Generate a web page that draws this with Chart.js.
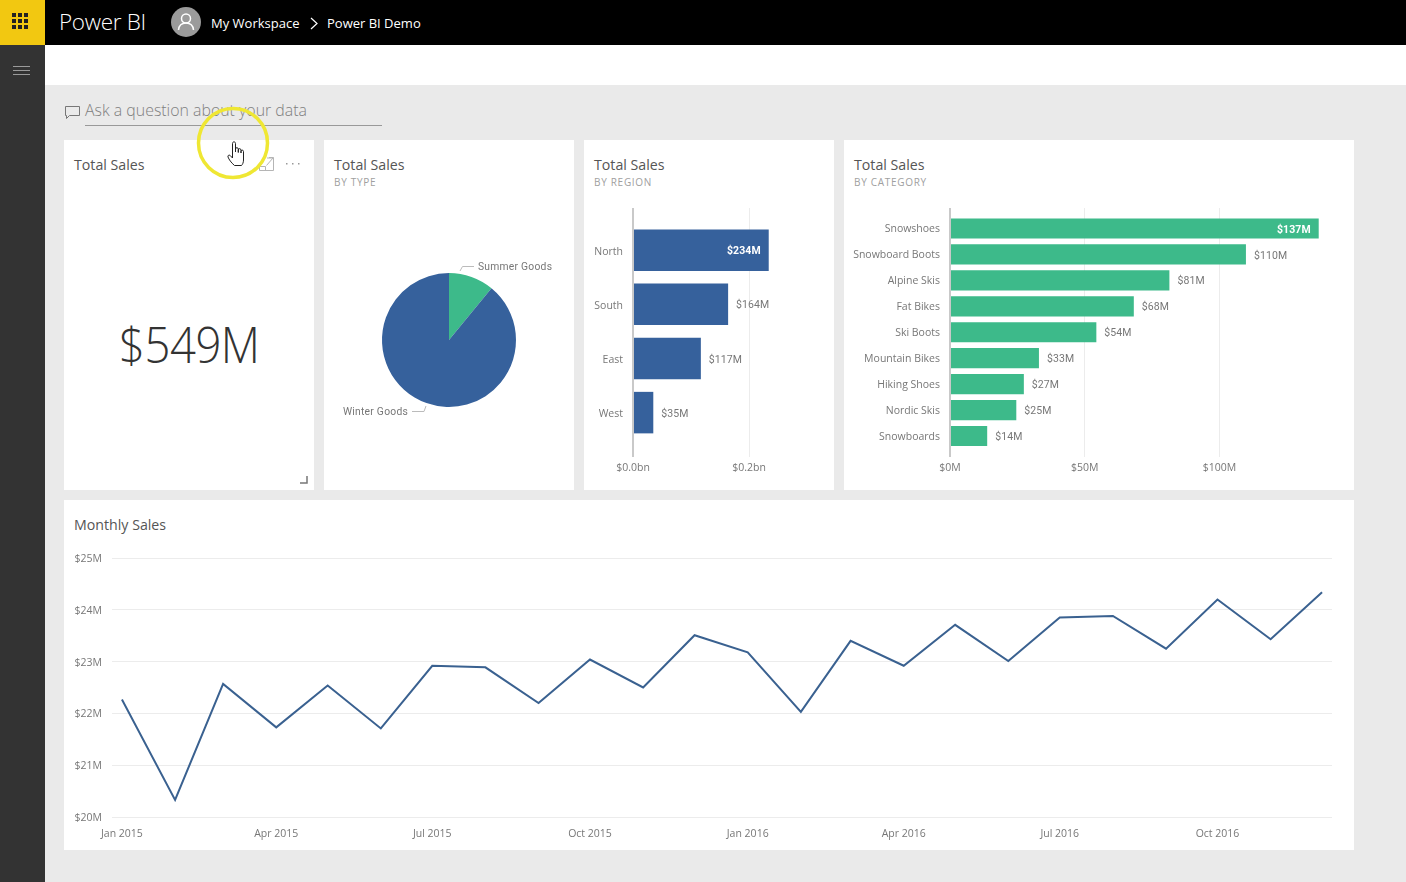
<!DOCTYPE html>
<html><head><meta charset="utf-8">
<script src="https://cdn.jsdelivr.net/npm/chart.js@4"></script>
<style>
html,body{margin:0;padding:0;width:1406px;height:882px;overflow:hidden;background:#eaeaea;font-family:"Open Sans",sans-serif}
.abs,.card,canvas{position:absolute}
.card{background:#fff}
.t{position:absolute;white-space:nowrap;line-height:1}
.title{font-size:14.2px;color:#555}
.sub{font-size:10px;color:#a0a0a0;letter-spacing:.7px}
</style></head><body>
<div class="abs" style="left:0;top:0;width:1406px;height:45px;background:#000"></div>
<div class="abs" style="left:0;top:0;width:45px;height:45px;background:#f2c811"></div>
<div class="abs" style="left:0;top:45px;width:45px;height:837px;background:#333"></div>
<div class="abs" style="left:45px;top:45px;width:1361px;height:40px;background:#fff"></div>
<svg class="abs" style="left:12px;top:13px" width="17" height="17" fill="#222"><rect x="0" y="0" width="4" height="4"/><rect x="6" y="0" width="4" height="4"/><rect x="12" y="0" width="4" height="4"/><rect x="0" y="6" width="4" height="4"/><rect x="6" y="6" width="4" height="4"/><rect x="12" y="6" width="4" height="4"/><rect x="0" y="12" width="4" height="4"/><rect x="6" y="12" width="4" height="4"/><rect x="12" y="12" width="4" height="4"/></svg>
<svg class="abs" style="left:13px;top:66px" width="17" height="10" stroke="#9a9a9a" stroke-width="1"><path d="M0 .5H17M0 4.5H17M0 8.5H17"/></svg>
<div class="t" style="left:59px;top:11px;font-size:22.5px;font-weight:300;color:#fff;letter-spacing:-.3px">Power BI</div>
<svg class="abs" style="left:171px;top:7px" width="30" height="30"><circle cx="15" cy="15" r="15" fill="#9b9b9b"/><circle cx="15" cy="11.5" r="4.5" fill="none" stroke="#fff" stroke-width="1.5"/><path d="M7.5 23c.5-5 3.5-7 7.5-7s7 2 7.5 7" fill="none" stroke="#fff" stroke-width="1.5"/></svg>
<div class="t" style="left:211px;top:17px;font-size:13px;font-weight:500;color:#fff">My Workspace</div>
<svg class="abs" style="left:310px;top:17px" width="9" height="13" fill="none" stroke="#fff" stroke-width="1.2"><path d="M1 1l6 5.500-6 5.500"/></svg>
<div class="t" style="left:327px;top:17px;font-size:13px;font-weight:500;color:#fff">Power BI Demo</div>

<svg class="abs" style="left:64px;top:105px" width="17" height="15" fill="none" stroke="#777" stroke-width="1"><path d="M1.500 1.500H15.500V10.500H5.500L2.500 13.500V10.500H1.500Z"/></svg>
<div class="t" style="left:85px;top:103px;font-size:15.9px;font-weight:300;color:#808080">Ask a question about your data</div>
<div class="abs" style="left:85px;top:125px;width:297px;height:1px;background:#999"></div>

<div class="card" style="left:64px;top:140px;width:250px;height:350px"></div>
<div class="card" style="left:324px;top:140px;width:250px;height:350px"></div>
<div class="card" style="left:584px;top:140px;width:250px;height:350px"></div>
<div class="card" style="left:844px;top:140px;width:510px;height:350px"></div>
<div class="card" style="left:64px;top:500px;width:1290px;height:350px"></div>

<div class="t title" style="left:74px;top:158px">Total Sales</div>
<div class="t" style="left:119px;top:319px;font-size:50px;font-weight:300;color:#333;letter-spacing:-.5px;transform:scaleX(.908);transform-origin:left top">$549M</div>
<svg class="abs" style="left:259px;top:157px" width="16" height="14" fill="none" stroke="#b5b5b5" stroke-width="1"><path d="M.5 6.500V13.500H14.500V1H8M7.500 8.500L14 1M10 .5h4.500V5M.5 9.500H6.500V13.500"/></svg>
<svg class="abs" style="left:286px;top:163px" width="15" height="3" fill="#999"><rect x="0" y="0" width="1.500" height="1.500"/><rect x="6" y="0" width="1.500" height="1.500"/><rect x="12" y="0" width="1.500" height="1.500"/></svg>
<svg class="abs" style="left:300px;top:476px" width="8" height="8" fill="none" stroke="#777" stroke-width="1.500"><path d="M7 0V7H0"/></svg>

<div class="t title" style="left:334px;top:158px">Total Sales</div>
<div class="t sub" style="left:334px;top:177px">BY TYPE</div>
<div class="t title" style="left:594px;top:158px">Total Sales</div>
<div class="t sub" style="left:594px;top:177px">BY REGION</div>
<div class="t title" style="left:854px;top:158px">Total Sales</div>
<div class="t sub" style="left:854px;top:177px">BY CATEGORY</div>
<div class="t title" style="left:74px;top:518px">Monthly Sales</div>

<canvas id="pie" width="250" height="350" style="left:324px;top:140px"></canvas>
<canvas id="region" width="250" height="350" style="left:584px;top:140px"></canvas>
<canvas id="category" width="510" height="350" style="left:844px;top:140px"></canvas>
<canvas id="monthly" width="1290" height="350" style="left:64px;top:500px"></canvas>

<svg class="abs" style="left:195px;top:105px;pointer-events:none" width="76" height="76"><circle cx="38" cy="38" r="34.500" fill="none" stroke="#efe733" stroke-width="3.500"/>
<path transform="translate(3,7)" d="M36.500 53.500C33 50.500 31 47.500 30 45c-.5-1.500 1-2.500 2.200-1.500l2.300 2.500V31.500c0-2.200 3-2.200 3 0V40v-3c0-1.800 2.800-1.800 2.800 0v3.500-2.500c0-1.800 2.700-1.800 2.700 0v3-1.500c0-1.800 2.500-1.800 2.500 0V48c0 2.500-1 4.500-2 5.500Z" fill="#fff" stroke="#222" stroke-width="1"/></svg>

<script>
const regions = ["North", "South", "East", "West"];
const regionSales = [234, 164, 117, 35];
const categories = ["Snowshoes", "Snowboard Boots", "Alpine Skis", "Fat Bikes", "Ski Boots", "Mountain Bikes", "Hiking Shoes", "Nordic Skis", "Snowboards"];
const categorySales = [136.8, 109.8, 81.4, 68.2, 54.3, 33, 27.4, 24.6, 13.8];
const goodsTypes = ["Summer Goods", "Winter Goods"];
const goodsSales = [60, 489];
const months = ["Jan 2015","Feb 2015","Mar 2015","Apr 2015","May 2015","Jun 2015","Jul 2015","Aug 2015","Sep 2015","Oct 2015","Nov 2015","Dec 2015","Jan 2016","Feb 2016","Mar 2016","Apr 2016","May 2016","Jun 2016","Jul 2016","Aug 2016","Sep 2016","Oct 2016","Nov 2016","Dec 2016"];
const monthDays = [0,31,59,90,120,151,181,212,243,273,304,334,365,396,425,456,486,517,547,578,609,639,670,700];
const monthlySales = [22.27,20.33,22.57,21.73,22.54,21.71,22.92,22.89,22.20,23.04,22.50,23.51,23.18,22.03,23.40,22.92,23.71,23.01,23.85,23.88,23.25,24.20,23.43,24.34];
const regionTicks = [0, 200];
const categoryTicks = [0, 50, 100];
const quarterTicks = [0, 90, 181, 273, 365, 456, 547, 639];

const BLUE = "#36619c", GREEN = "#3dba8a", LABEL = "#777", GRID = "#ececec", BASE = "#c9c9c9";
const TICKFONT = {family: '"Open Sans"', size: 10.5};
Chart.defaults.animation = false;
Chart.defaults.responsive = false;
Chart.defaults.devicePixelRatio = 1;
Chart.defaults.plugins.legend.display = false;
Chart.defaults.plugins.tooltip.enabled = false;

const barLabels = {
  id: "barLabels",
  afterDatasetsDraw(chart) {
    const c = chart.ctx, ds = chart.data.datasets[0];
    chart.getDatasetMeta(0).data.forEach((bar, i) => {
      const inside = i === 0, v = Math.round(ds.data[i].x);
      c.save();
      c.font = (inside ? "bold " : "") + '10.5px "Roboto"';
      c.letterSpacing = "0.1px";
      c.fillStyle = inside ? "#fff" : LABEL;
      c.textAlign = inside ? "right" : "left";
      c.textBaseline = "middle";
      c.fillText("$" + v + "M", bar.x + (inside ? -8 : 8), bar.y + 1.5);
      c.restore();
    });
  }
};

const pieLabels = {
  id: "pieLabels",
  afterDatasetsDraw(chart) {
    const c = chart.ctx, arc = chart.getDatasetMeta(0).data[0];
    const cx = arc.x, cy = arc.y;
    c.save();
    c.strokeStyle = "#bbb"; c.lineWidth = 1;
    c.beginPath();
    c.moveTo(cx + 11, cy - 69); c.lineTo(cx + 13.500, cy - 73.500); c.lineTo(cx + 25, cy - 73.500);
    c.moveTo(cx - 23, cy + 66); c.lineTo(cx - 25, cy + 71.500); c.lineTo(cx - 37, cy + 71.500);
    c.stroke();
    c.font = '10.3px "Roboto"'; c.letterSpacing = "0.25px"; c.fillStyle = LABEL; c.textBaseline = "middle";
    c.textAlign = "left"; c.fillText(goodsTypes[0], cx + 29, cy - 72.500);
    c.textAlign = "right"; c.fillText(goodsTypes[1], cx - 41, cy + 72);
    c.restore();
  }
};

function hBar(id, names, values, ticks, opt) {
  new Chart(document.getElementById(id), {
    type: "bar",
    data: {datasets: [{data: values.map((v, i) => ({x: v, y: i})), backgroundColor: opt.color, categoryPercentage: 1, barPercentage: opt.thick}]},
    plugins: [barLabels],
    options: {
      indexAxis: "y",
      layout: {padding: {top: 68, right: opt.right, bottom: 0, left: 0}},
      scales: {
        y: {type: "linear", reverse: true, offset: false, min: opt.ymin, max: opt.ymax,
            afterBuildTicks: s => { s.ticks = names.map((_, i) => ({value: i})); },
            afterFit: s => { s.width = opt.left; },
            border: {display: false}, grid: {display: false, offset: false, drawTicks: false},
            ticks: {autoSkip: false, padding: 10, labelOffset: opt.labelShift, color: LABEL, font: TICKFONT, callback: v => names[v]}},
        x: {type: "linear", min: 0, max: opt.xmax,
            afterBuildTicks: s => { s.ticks = ticks.map(v => ({value: v})); },
            afterFit: s => { s.height = 33; },
            border: {display: false},
            grid: {drawTicks: false, color: c => c.tick && c.tick.value === 0 ? BASE : GRID, lineWidth: c => c.tick && c.tick.value === 0 ? 2 : 1},
            ticks: {autoSkip: false, maxRotation: 0, padding: 5, color: LABEL, font: TICKFONT, callback: opt.fmt}}
      }
    }
  });
}

hBar("region", regions, regionSales, regionTicks, {
  color: BLUE, thick: .767, left: 49, right: 27, xmax: 300, ymin: -.78, ymax: 3.82, labelShift: 1.5,
  fmt: v => "$" + (v / 1000).toFixed(1) + "bn"
});
hBar("category", categories, categorySales, categoryTicks, {
  color: GREEN, thick: .78, left: 106, right: 10.500, xmax: 146, ymin: -.79, ymax: 8.81, labelShift: 1,
  fmt: v => "$" + v + "M"
});

new Chart(document.getElementById("pie"), {
  type: "pie",
  data: {labels: goodsTypes, datasets: [{data: goodsSales, backgroundColor: [GREEN, BLUE], borderWidth: 0}]},
  plugins: [pieLabels],
  options: {layout: {padding: {top: 133, bottom: 83, left: 58, right: 58}}}
});

new Chart(document.getElementById("monthly"), {
  type: "line",
  data: {datasets: [{data: monthlySales.map((v, i) => ({x: monthDays[i], y: v})), borderColor: "#3a6190", borderWidth: 2, pointRadius: 0, tension: 0, fill: false}]},
  options: {
    layout: {padding: {top: 58, right: 22, bottom: 0, left: 0}},
    scales: {
      x: {type: "linear", min: -5.8, max: 705.8,
          afterBuildTicks: s => { s.ticks = quarterTicks.map(v => ({value: v})); },
          afterFit: s => { s.height = 33; },
          border: {display: false}, grid: {display: false, drawTicks: false},
          ticks: {autoSkip: false, maxRotation: 0, padding: 11, color: LABEL, font: TICKFONT, callback: v => months[monthDays.indexOf(v)]}},
      y: {min: 20, max: 25,
          afterFit: s => { s.width = 48; },
          border: {display: false}, grid: {color: GRID, drawTicks: false},
          ticks: {stepSize: 1, padding: 10, labelOffset: 1, color: LABEL, font: TICKFONT, callback: v => "$" + v + "M"}}
    }
  }
});
</script>
</body></html>
